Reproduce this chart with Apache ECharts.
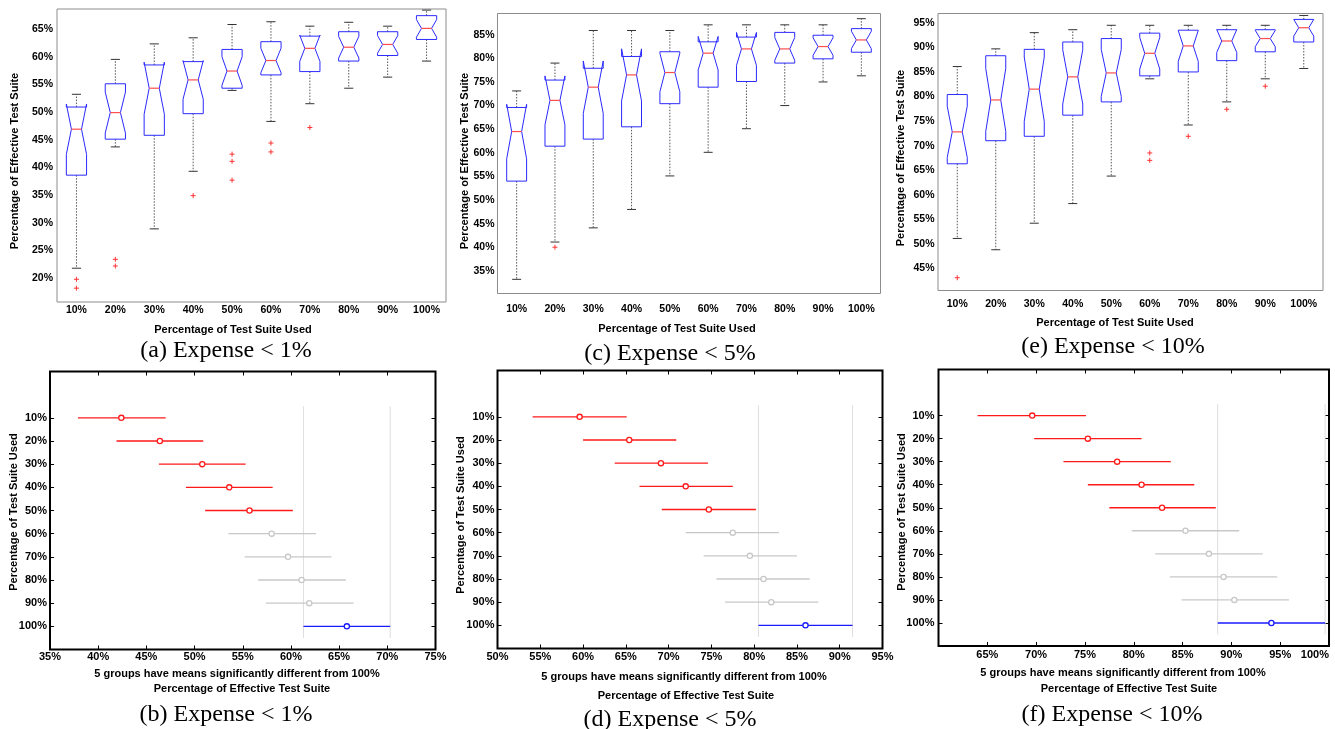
<!DOCTYPE html>
<html>
<head>
<meta charset="utf-8">
<script src="https://cdn.jsdelivr.net/npm/echarts@6/dist/echarts.min.js"></script>
<style>
  html, body { margin: 0; padding: 0; background: #fff; }
  #main { width: 1335px; height: 729px; }
</style>
</head>
<body>
<div id="main"></div>
<script type="text/javascript">

var groups = ['10%', '20%', '30%', '40%', '50%', '60%', '70%', '80%', '90%', '100%'];

// (a) Expense < 1%  -- boxplot
var aLower  = [21.8, 43.7, 28.9, 39.3, 53.9, 48.3, 51.5, 54.3, 56.3, 59.2];
var aQ1     = [38.6, 45.1, 45.8, 49.7, 54.3, 56.7, 57.3, 59.2, 60.2, 63.1];
var aMedian = [46.9, 49.9, 54.3, 55.8, 57.4, 59.3, 61.5, 61.7, 62.2, 65.1];
var aQ3     = [50.9, 55.1, 58.5, 59.1, 61.3, 62.7, 63.7, 64.5, 64.5, 67.4];
var aUpper  = [53.2, 59.5, 62.3, 63.4, 65.8, 66.3, 65.5, 66.2, 65.5, 68.4];
var aOutliers = [[0, 19.8], [0, 18.2], [1, 23.4], [1, 22.2], [3, 34.9], [4, 42.4],
                 [4, 41.1], [4, 37.7], [5, 44.4], [5, 42.8], [6, 47.2]];
var aTicks = [20, 25, 30, 35, 40, 45, 50, 55, 60, 65];

// (c) Expense < 5%
var cLower  = [33.2, 41.1, 44.1, 48.0, 55.1, 60.1, 65.1, 70.0, 75.0, 76.3];
var cQ1     = [54.0, 61.4, 62.9, 65.5, 70.4, 73.9, 75.1, 79.0, 79.9, 81.3];
var cMedian = [64.5, 71.1, 73.9, 76.5, 77.0, 81.1, 82.0, 82.0, 82.5, 83.9];
var cQ3     = [69.6, 75.4, 77.9, 80.4, 81.4, 83.5, 84.5, 85.5, 84.9, 86.3];
var cUpper  = [73.1, 79.0, 85.9, 85.9, 85.9, 87.1, 87.1, 87.1, 87.1, 88.4];
var cOutliers = [[1, 40.0]];
var cTicks = [35, 40, 45, 50, 55, 60, 65, 70, 75, 80, 85];

// (e) Expense < 10%
var eLower  = [51.1, 48.8, 54.2, 58.2, 63.8, 83.6, 74.2, 78.9, 83.6, 85.7];
var eQ1     = [66.3, 71.0, 71.9, 76.2, 78.9, 84.2, 85.0, 87.3, 89.1, 91.1];
var eMedian = [72.8, 79.3, 81.5, 84.0, 84.8, 88.8, 90.3, 91.3, 91.8, 94.0];
var eQ3     = [80.4, 88.3, 89.6, 91.1, 91.8, 92.9, 93.5, 93.6, 93.6, 95.7];
var eUpper  = [86.1, 89.7, 93.0, 93.6, 94.5, 94.5, 94.5, 94.5, 94.5, 96.5];
var eOutliers = [[0, 43.1], [5, 68.5], [5, 67.0], [6, 71.9], [7, 77.4], [8, 82.1]];
var eTicks = [45, 50, 55, 60, 65, 70, 75, 80, 85, 90, 95];

// (b) multiple comparison, Expense < 1%
var bLow  = [37.9, 41.9, 46.3, 49.1, 51.1, 53.5, 55.2, 56.6, 57.4, 61.3];
var bMean = [42.4, 46.4, 50.8, 53.6, 55.7, 58.0, 59.7, 61.1, 61.9, 65.8];
var bHigh = [47.0, 50.9, 55.3, 58.1, 60.2, 62.6, 64.2, 65.7, 66.5, 70.3];
var bTicks = [35, 40, 45, 50, 55, 60, 65, 70, 75];

// (d) Expense < 5%
var dLow  = [54.1, 60.0, 63.7, 66.6, 69.2, 72.0, 74.1, 75.6, 76.6, 80.5];
var dMean = [59.6, 65.4, 69.1, 72.0, 74.7, 77.5, 79.5, 81.1, 82.0, 86.0];
var dHigh = [65.1, 70.9, 74.6, 77.5, 80.2, 82.9, 85.0, 86.5, 87.5, 91.5];
var dTicks = [50, 55, 60, 65, 70, 75, 80, 85, 90, 95];

// (f) Expense < 10%
var fLow  = [64.0, 69.8, 72.8, 75.3, 77.5, 79.8, 82.2, 83.7, 84.9, 88.6];
var fMean = [69.6, 75.3, 78.3, 80.8, 82.9, 85.3, 87.7, 89.2, 90.3, 94.1];
var fHigh = [75.1, 80.8, 83.8, 86.2, 88.4, 90.8, 93.2, 94.7, 95.9, 99.6];
var fTicks = [65, 70, 75, 80, 85, 90, 95, 100];

var SANS = '"Liberation Sans", Arial, sans-serif';
var SERIF = '"Liberation Serif", "Times New Roman", serif';
var NOTCH = 0.37;
var RED = '#ff1a1a', GRAY = '#c8c8c8', BLUE = '#1a1aff';

var grids = [], xAxes = [], yAxes = [], series = [], texts = [];

function labelStyle(margin, size, extra) {
    var s = { color: '#000', fontFamily: SANS, fontWeight: 'bold', fontSize: size, margin: margin };
    for (var k in extra) s[k] = extra[k];
    return s;
}

function renderBox(params, api) {
    var i = api.value(0);
    var lo = api.value(1), b1 = api.value(2), md = api.value(3), b3 = api.value(4), hi = api.value(5);
    var cx = api.coord([i, md])[0];
    var w = api.size([1, 0])[0] * 0.26;
    var nk = NOTCH * (b3 - b1);
    function y(v) { return api.coord([i, v])[1]; }
    var capW = w * 0.45;
    var whisker = { stroke: '#555', lineWidth: 1, lineDash: [1.5, 1.5] };
    var cap = { stroke: '#333', lineWidth: 1 };
    var L = cx - w, R = cx + w;
    var pts = [[L, y(b1)], [L, y(md - nk)], [cx - w / 2, y(md)], [L, y(md + nk)], [L, y(b3)],
               [R, y(b3)], [R, y(md + nk)], [cx + w / 2, y(md)], [R, y(md - nk)], [R, y(b1)]];
    return {
        type: 'group',
        children: [
            { type: 'line', shape: { x1: cx, y1: y(b3), x2: cx, y2: y(hi) }, style: whisker },
            { type: 'line', shape: { x1: cx, y1: y(b1), x2: cx, y2: y(lo) }, style: whisker },
            { type: 'line', shape: { x1: cx - capW, y1: y(hi), x2: cx + capW, y2: y(hi) }, style: cap },
            { type: 'line', shape: { x1: cx - capW, y1: y(lo), x2: cx + capW, y2: y(lo) }, style: cap },
            { type: 'polygon', shape: { points: pts }, style: { fill: 'none', stroke: '#2a2aff', lineWidth: 1 } },
            { type: 'line', shape: { x1: cx - w / 2, y1: y(md), x2: cx + w / 2, y2: y(md) },
              style: { stroke: '#ff4d4d', lineWidth: 1.2 } }
        ]
    };
}

function renderPlus(params, api) {
    var p = api.coord([api.value(0), api.value(1)]);
    var s = 2.5, st = { stroke: '#ff3333', lineWidth: 1 };
    return {
        type: 'group',
        children: [
            { type: 'line', shape: { x1: p[0] - s, y1: p[1], x2: p[0] + s, y2: p[1] }, style: st },
            { type: 'line', shape: { x1: p[0], y1: p[1] - s, x2: p[0], y2: p[1] + s }, style: st }
        ]
    };
}

function boxPanel(box, yRange, ticks, lower, q1, median, q3, upper, outliers, lm) {
    var gi = grids.length;
    grids.push({ left: box[0], top: box[1], width: box[2], height: box[3], show: true,
                 borderColor: '#8c8c8c', borderWidth: 1, outerBoundsMode: 'none' });
    var xi = xAxes.length;
    xAxes.push({ type: 'category', gridIndex: gi, data: groups,
                 axisLine: { show: false, onZero: false }, axisTick: { show: false },
                 splitLine: { show: false }, axisLabel: labelStyle(lm[1], 10.5, { interval: 0 }) });
    var yi = yAxes.length;
    var tick = { inside: true, length: 3, customValues: ticks, lineStyle: { color: '#666' } };
    yAxes.push({ type: 'value', gridIndex: gi, min: yRange[0], max: yRange[1],
                 axisLine: { show: false, onZero: false }, splitLine: { show: false }, axisTick: tick,
                 axisLabel: labelStyle(lm[0], 10.5, { customValues: ticks, formatter: '{value}%' }) });
    yAxes.push({ type: 'value', gridIndex: gi, position: 'right', min: yRange[0], max: yRange[1],
                 axisLine: { show: false, onZero: false }, splitLine: { show: false }, axisTick: tick,
                 axisLabel: { show: false } });
    series.push({
        type: 'custom', xAxisIndex: xi, yAxisIndex: yi, silent: true, animation: false,
        data: groups.map(function (g, i) { return [i, lower[i], q1[i], median[i], q3[i], upper[i]]; }),
        encode: { x: 0, y: [1, 2, 3, 4, 5] },
        renderItem: renderBox
    });
    series.push({
        type: 'custom', xAxisIndex: xi, yAxisIndex: yi, silent: true, animation: false,
        data: outliers, encode: { x: 0, y: 1 }, renderItem: renderPlus
    });
}

function ciPanel(box, xRange, ticks, mean, low, high, lm, alignLast) {
    var gi = grids.length;
    grids.push({ left: box[0], top: box[1], width: box[2], height: box[3], show: true,
                 borderColor: '#000', borderWidth: 2, outerBoundsMode: 'none' });
    var rows = groups.map(function (g, i) { return i + 1; });
    var xi = xAxes.length;
    var xt = { inside: true, length: 4, customValues: ticks, lineStyle: { color: '#000' } };
    var xl = labelStyle(lm[1], 11, { customValues: ticks, formatter: '{value}%' });
    if (alignLast) xl.alignMaxLabel = 'right';
    xAxes.push({ type: 'value', gridIndex: gi, min: xRange[0], max: xRange[1],
                 axisLine: { show: false, onZero: false }, splitLine: { show: false },
                 axisTick: xt, axisLabel: xl });
    xAxes.push({ type: 'value', gridIndex: gi, position: 'top', min: xRange[0], max: xRange[1],
                 axisLine: { show: false, onZero: false }, splitLine: { show: false },
                 axisTick: xt, axisLabel: { show: false } });
    var yi = yAxes.length;
    var yt = { inside: true, length: 4, customValues: rows, lineStyle: { color: '#000' } };
    yAxes.push({ type: 'value', gridIndex: gi, inverse: true, min: -1, max: 11,
                 axisLine: { show: false, onZero: false }, splitLine: { show: false }, axisTick: yt,
                 axisLabel: labelStyle(lm[0], 11, { customValues: rows,
                     formatter: function (v) { return groups[v - 1]; } }) });
    yAxes.push({ type: 'value', gridIndex: gi, position: 'right', inverse: true, min: -1, max: 11,
                 axisLine: { show: false, onZero: false }, splitLine: { show: false }, axisTick: yt,
                 axisLabel: { show: false } });

    var ref = groups.length - 1;
    var colors = groups.map(function (g, i) {
        if (i === ref) return BLUE;
        return (high[i] < low[ref] || low[i] > high[ref]) ? RED : GRAY;
    });

    // reference band of the 100% group
    series.push({
        type: 'custom', xAxisIndex: xi, yAxisIndex: yi, silent: true, animation: false, z: 1,
        data: [[low[ref], 0.5, 10.5], [high[ref], 0.5, 10.5]],
        encode: { x: 0, y: [1, 2] },
        renderItem: function (params, api) {
            var a = api.coord([api.value(0), api.value(1)]);
            var b = api.coord([api.value(0), api.value(2)]);
            return { type: 'line', shape: { x1: a[0], y1: a[1], x2: b[0], y2: b[1] },
                     style: { stroke: '#dedede', lineWidth: 1 } };
        }
    });
    series.push({
        type: 'custom', xAxisIndex: xi, yAxisIndex: yi, silent: true, animation: false, z: 2,
        data: groups.map(function (g, i) { return [mean[i], i + 1, low[i], high[i]]; }),
        encode: { x: [0, 2, 3], y: 1 },
        renderItem: function (params, api) {
            var c = colors[params.dataIndex];
            var row = api.value(1);
            var pl = api.coord([api.value(2), row]);
            var ph = api.coord([api.value(3), row]);
            var pm = api.coord([api.value(0), row]);
            return {
                type: 'group',
                children: [
                    { type: 'line', shape: { x1: pl[0], y1: pl[1], x2: ph[0], y2: ph[1] },
                      style: { stroke: c, lineWidth: 1.4 } },
                    { type: 'circle', shape: { cx: pm[0], cy: pm[1], r: 2.6 },
                      style: { fill: '#fff', stroke: c, lineWidth: 1.3 } }
                ]
            };
        }
    });
}

function addText(str, x, y, font, rot) {
    texts.push({
        type: 'text', x: x, y: y, rotation: rot || 0, silent: true,
        style: { text: str, font: font, fill: '#000', align: 'center', verticalAlign: 'middle',
                 textAlign: 'center', textVerticalAlign: 'middle' }
    });
}

boxPanel([57, 9, 389, 293], [15.7, 68.6], aTicks, aLower, aQ1, aMedian, aQ3, aUpper, aOutliers, [4, 3]);
boxPanel([497.5, 13.5, 383, 280], [30.2, 89.5], cTicks, cLower, cQ1, cMedian, cQ3, cUpper, cOutliers, [3, 10]);
boxPanel([938, 13.5, 385, 277], [40.5, 96.9], eTicks, eLower, eQ1, eMedian, eQ3, eUpper, eOutliers, [3.5, 8]);

ciPanel([50, 371.5, 385.5, 278], [35, 75], bTicks, bMean, bLow, bHigh, [3, 2], false);
ciPanel([497.5, 370.5, 385, 278], [50, 95], dTicks, dMean, dLow, dHigh, [3, 3], false);
ciPanel([938.5, 369.5, 390.5, 276.5], [60, 100], fTicks, fMean, fLow, fHigh, [4, 3], true);

var B11 = 'bold 11px ' + SANS;
var CAP = '24px ' + SERIF;
var UP = Math.PI / 2;

addText('Percentage of Test Suite Used', 233, 330, B11);
addText('Percentage of Test Suite Used', 677, 329, B11);
addText('Percentage of Test Suite Used', 1115, 323, B11);
addText('Percentage of Effective Test Suite', 15, 161, B11, UP);
addText('Percentage of Effective Test Suite', 465, 161, B11, UP);
addText('Percentage of Effective Test Suite', 901, 158, B11, UP);

addText('Percentage of Test Suite Used', 13.5, 512, B11, UP);
addText('Percentage of Test Suite Used', 461, 515, B11, UP);
addText('Percentage of Test Suite Used', 902, 512, B11, UP);
addText('5 groups have means significantly different from 100%', 237, 674, B11);
addText('Percentage of Effective Test Suite', 242, 689, B11);
addText('5 groups have means significantly different from 100%', 684, 677, B11);
addText('Percentage of Effective Test Suite', 686, 696, B11);
addText('5 groups have means significantly different from 100%', 1123, 673, B11);
addText('Percentage of Effective Test Suite', 1129, 689, B11);

addText('(a) Expense < 1%', 226, 351, CAP);
addText('(c) Expense < 5%', 670, 354, CAP);
addText('(e) Expense < 10%', 1113, 347, CAP);
addText('(b) Expense < 1%', 226, 715, CAP);
addText('(d) Expense < 5%', 670, 720, CAP);
addText('(f) Expense < 10%', 1112, 715, CAP);

var option = {
    backgroundColor: '#fff',
    animation: false,
    grid: grids,
    xAxis: xAxes,
    yAxis: yAxes,
    series: series,
    graphic: { elements: texts }
};

var chart = echarts.init(document.getElementById('main'), null, { renderer: 'canvas' });
chart.setOption(option);

</script>
</body>
</html>
